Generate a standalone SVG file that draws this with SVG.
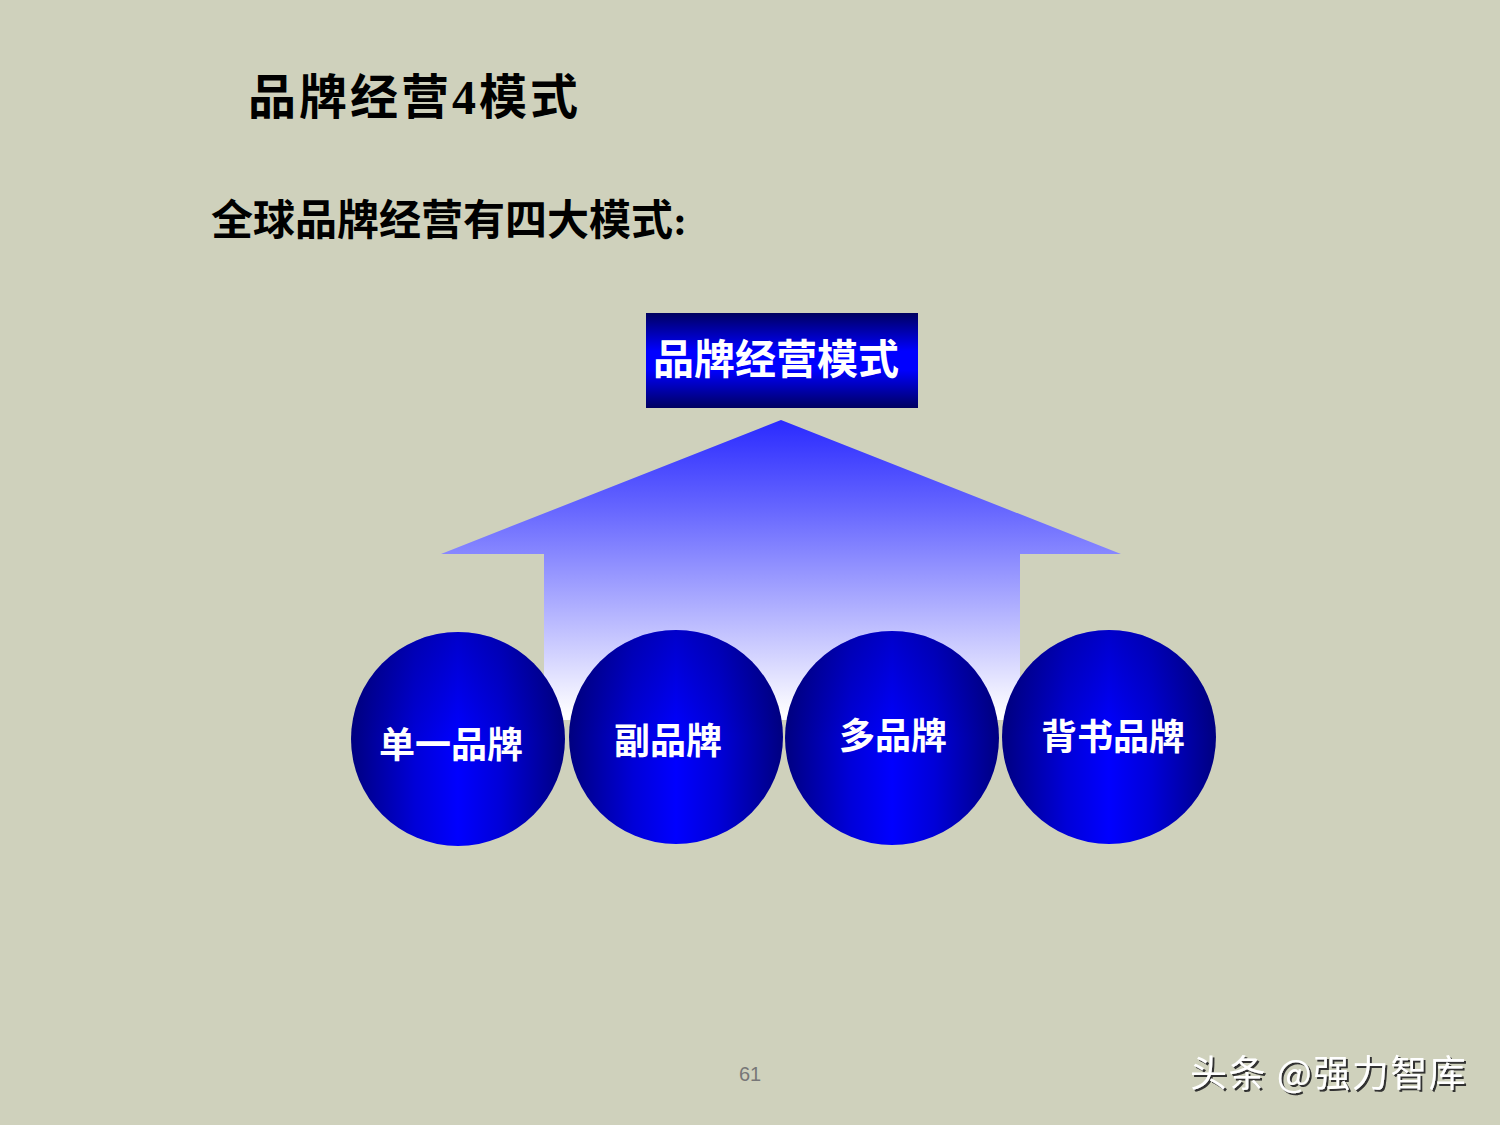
<svg xmlns="http://www.w3.org/2000/svg" width="1500" height="1125" viewBox="0 0 1500 1125">
<defs>
<linearGradient id="boxg" x1="0" y1="0" x2="0" y2="1">
<stop offset="0" stop-color="#000060"/>
<stop offset="0.4" stop-color="#0000FF"/>
<stop offset="0.6" stop-color="#0000FF"/>
<stop offset="1" stop-color="#000060"/>
</linearGradient>
<linearGradient id="arrowg" gradientUnits="userSpaceOnUse" x1="0" y1="420" x2="0" y2="715">
<stop offset="0" stop-color="#2A2AFF"/>
<stop offset="0.3" stop-color="#6666FF"/>
<stop offset="1" stop-color="#FFFFFF"/>
</linearGradient>
<linearGradient id="ballg" x1="0" y1="0" x2="1" y2="0">
<stop offset="0" stop-color="#000080"/>
<stop offset="0.3" stop-color="#0000D8"/>
<stop offset="0.5" stop-color="#0000FF"/>
<stop offset="0.7" stop-color="#0000D8"/>
<stop offset="1" stop-color="#000080"/>
</linearGradient>
<linearGradient id="ballshade" x1="0" y1="0" x2="0" y2="1">
<stop offset="0" stop-color="#000050" stop-opacity="0.3"/>
<stop offset="0.5" stop-color="#000050" stop-opacity="0"/>
<stop offset="1" stop-color="#000050" stop-opacity="0"/>
</linearGradient>
<filter id="sh" x="-5%" y="-20%" width="110%" height="140%">
<feDropShadow dx="2" dy="2" stdDeviation="0.6" flood-color="#333333"/>
</filter>
<style>
.cjk{font-family:"Liberation Serif","Noto Sans CJK SC",serif;font-weight:bold}
.wt{fill:#FFFFFF;text-anchor:middle}
.ball{fill:url(#ballg)}
.shade{fill:url(#ballshade)}
</style>
</defs>
<rect width="1500" height="1125" fill="#CFD1BC"/>
<text class="cjk" x="248" y="114" font-size="48" letter-spacing="3" fill="#000000">品牌经营4模式</text>
<text class="cjk" x="211" y="235" font-size="42" fill="#000000">全球品牌经营有四大模式:</text>
<g id="arrow">
<polygon points="781,420 1121,554 1020,554 1020,720 544,720 544,554 441,554" fill="url(#arrowg)"/>
</g>
<g id="top">
<rect x="646" y="313" width="272" height="95" fill="url(#boxg)"/>
<text class="cjk wt" x="776" y="374" font-size="41">品牌经营模式</text>
</g>
<g id="connectors"></g>
<g id="n1">
<circle class="ball" cx="458" cy="739" r="107"/>
<circle class="shade" cx="458" cy="739" r="107"/>
<text class="cjk wt" x="451" y="758" font-size="36">单一品牌</text>
</g>
<g id="n2">
<circle class="ball" cx="676" cy="737" r="107"/>
<circle class="shade" cx="676" cy="737" r="107"/>
<text class="cjk wt" x="668" y="754" font-size="36">副品牌</text>
</g>
<g id="n3">
<circle class="ball" cx="892" cy="738" r="107"/>
<circle class="shade" cx="892" cy="738" r="107"/>
<text class="cjk wt" x="893" y="749" font-size="36">多品牌</text>
</g>
<g id="n4">
<circle class="ball" cx="1109" cy="737" r="107"/>
<circle class="shade" cx="1109" cy="737" r="107"/>
<text class="cjk wt" x="1113" y="750" font-size="36">背书品牌</text>
</g>
<text x="750" y="1081" font-family="Liberation Sans,sans-serif" font-size="20" fill="#777777" text-anchor="middle">61</text>
<text x="1190" y="1087" font-family="'Noto Sans CJK SC',sans-serif" font-size="37" letter-spacing="1.5" fill="#FFFFFF" filter="url(#sh)">头条 @强力智库</text>
</svg>
